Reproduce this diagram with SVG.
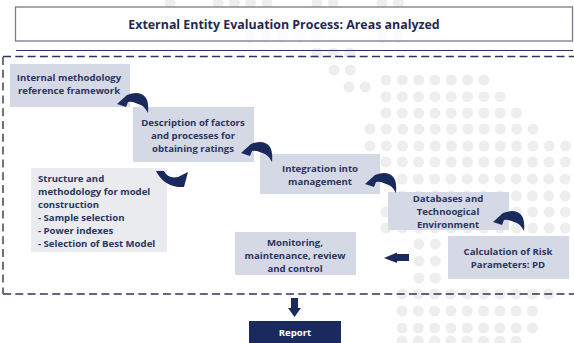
<svg xmlns="http://www.w3.org/2000/svg" width="574" height="343" viewBox="0 0 574 343">
<style>
text{font-family:"Open Sans","Noto Sans","Liberation Sans",sans-serif;font-weight:700;font-size:9.6px;fill:#2b3560;text-anchor:middle}
.s{text-anchor:start}
.d{stroke:#eeeeef;stroke-width:11;stroke-linecap:round;stroke-dasharray:0 16.3;fill:none}
.n1{fill:#d5d9e6}
.n2{fill:#e9ebef}
.a{fill:#1b2a5c}
</style>
<defs><path id="arc" d="M0,0L10,-9Q23,-14 29,-6Q32,-1 31,9Q27,1 21,0Q15,-3 11,-2L9,3Z"/></defs>
<rect width="574" height="343" fill="#fff"/>
<g id="dots">
<path class="d" d="M170,3h1M218,3h55M317,3h20M382,3h20M300,37h20M250,37h36M382,37h20M317,53h36M334,70h18M349,87h18M386,80h100M386,96.700h116M386,113h133M370,129h165M370,146h198M386,162h182M402,179h166M402,196h166M386,212h182M386,228h182M419,244h18M419,261h18M419,278h18M402,294h150M402,311h133M402,328h133M402,341h117"/>
</g>
<g id="frame" fill="none">
<rect x="15.500" y="7" width="557" height="34" fill="#fff" fill-opacity=".8" stroke="#777c8a" stroke-width="1.300"/>
<path d="M16,50.500H573" stroke="#2b3560"/>
<path d="M3,56.500H574M3,294H574" stroke="#2b3560" stroke-width="1.300" stroke-dasharray="8 4.300"/>
<path d="M3,57V294" stroke="#6d7280" stroke-width="2" stroke-dasharray="8 4.800"/>
</g>
<text x="284" y="29" style="font-size:12.400px;fill:#1f2a52">External Entity Evaluation Process: Areas analyzed</text>
<g id="node1"><rect class="n1" x="10" y="64" width="120" height="43"/><text x="69" y="81">Internal methodology</text><text x="69" y="94">reference framework</text></g>
<g id="node2"><rect class="n1" x="133" y="107" width="121" height="55"/><text x="193" y="125.500">Description of factors</text><text x="193" y="138.500">and processes for</text><text x="193" y="151.500">obtaining ratings</text></g>
<g id="node3"><rect class="n2" x="31" y="168" width="136" height="84"/>
<text x="38" y="182" class="s">Structure and</text><text x="38" y="195" class="s">methodology for model</text><text x="38" y="208" class="s">construction</text><text x="38" y="221" class="s">- Sample selection</text><text x="38" y="234" class="s">- Power indexes</text><text x="38" y="247" class="s">- Selection of Best Model</text></g>
<g id="node4"><rect class="n1" x="260" y="154" width="120" height="40"/><text x="320" y="172">Integration into</text><text x="320" y="185">management</text></g>
<g id="node5"><rect class="n1" x="388" y="192" width="121" height="38"/><text x="448" y="202">Databases and</text><text x="448" y="215">Technoogical</text><text x="448" y="228">Environment</text></g>
<g id="node6"><rect class="n1" x="448" y="236" width="121" height="43"/><text x="508" y="255">Calculation of Risk</text><text x="508" y="268">Parameters: PD</text></g>
<g id="node7"><rect class="n1" x="235" y="232" width="121" height="43"/><text x="295" y="246">Monitoring,</text><text x="295" y="259">maintenance, review</text><text x="295" y="272">and control</text></g>
<g id="node8"><rect x="249" y="321" width="92" height="22" fill="#1b2a5c"/><text x="295" y="336" style="fill:#fff">Report</text></g>
<g id="connectors" class="a">
<use href="#arc" x="117" y="104"/>
<use href="#arc" x="241" y="153"/>
<use href="#arc" x="365" y="184"/>
<use href="#arc" x="493" y="222"/>
<path d="M156,171Q163,185 178,187L184,187L188,172L178,177Q168,179 164,171Z"/>
<path d="M384,258L397,252.500V254H409V261H397V263Z"/>
<path d="M291,298H298V308H301L294.500,317L288,308H291Z"/>
</g>
</svg>
